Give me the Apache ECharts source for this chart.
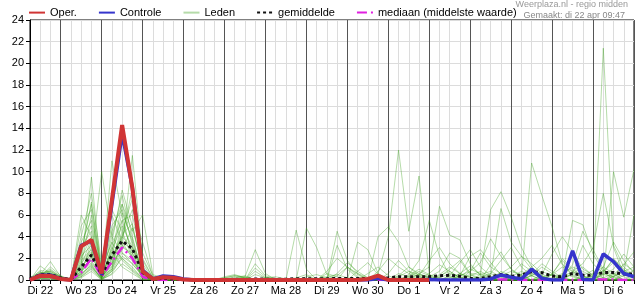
<!DOCTYPE html>
<html><head><meta charset="utf-8">
<script src="https://cdn.jsdelivr.net/npm/echarts@6/dist/echarts.min.js"></script>
<style>html,body{margin:0;padding:0;background:#fff}#c{width:635px;height:300px}</style>
</head><body><div id="c"></div>
<script>
// Day names (tick labels at noon of each day); series are 6-hourly from Di 22 06:00
const days = ['Di 22','Wo 23','Do 24','Vr 25','Za 26','Zo 27','Ma 28','Di 29','Wo 30','Do 1','Vr 2','Za 3','Zo 4','Ma 5','Di 6','Wo 7'];
const firstHour = 6;
const stepHours = 6;
const stepCount = 60;

const oper = [0,0.4,0.37,0.1,0,3.1,3.7,0.6,7.4,14.3,8.5,0.8,0.1,0.25,0.2,0.05,0,0,0,0,0,0,0,0,0,0,0,0,0,0,0,0,0,0.1,0.4,0,0,0,0,0];
const controle = [0,0.45,0.45,0.1,0,3.2,3.6,0.5,7,13.5,8.5,0.9,0.1,0.37,0.3,0.1,0,0,0,0,0,0,0,0,0,0,0,0,0,0,0,0,0,0,0.15,0,0,0,0,0.05,0,0,0,0,0,0.1,0.46,0.25,0.1,1.0,0.15,0,0,2.7,0.05,0,2.4,1.7,0.6,0.3];
const gemiddelde = [0.1,0.5,0.5,0.2,0.05,1.2,2.3,0.5,2.3,3.6,2.9,0.7,0.1,0.15,0.1,0.05,0.02,0.02,0.03,0.05,0.06,0.05,0.1,0.08,0.06,0.08,0.12,0.12,0.12,0.12,0.14,0.14,0.14,0.14,0.16,0.2,0.3,0.3,0.3,0.3,0.4,0.43,0.35,0.15,0.15,0.3,0.5,0.35,0.45,0.77,0.68,0.37,0.3,0.6,0.45,0.45,0.68,0.7,0.55,0.55];
const mediaan = [0,0.3,0.3,0.1,0,0.7,2.0,0.3,1.7,3.0,2.0,0.3,0,0,0,0,0,0,0,0,0,0,0,0,0,0,0,0,0,0,0,0,0,0,0,0,0,0,0,0,0,0,0,0,0,0.05,0.05,0.05,0,0,0,0,0,0,0,0.05,0.05,0.05,0,0];

const leden = [
 [0,0.3,0.5,0.1,0,1.5,9.5,0.3,2,4,3,0.5,0,0,0,0, 0,0,0,0.2,0.4,0.3,0,0,0,0,0,0,0.1,0.3,0.5,0.2,0,0,0.6,4, 12,4.5,9.6,0.5,0.2,0,0.3,1,0.6,0.2,0,0.5,1.5,0.8,0.3,0,0,0.6,1.2,0.4,0,0.3,1.5,0.8],
 [0,1.3,0.6,0.2,0,2.5,7,1,3.5,8.3,5,1,0.1,0,0,0, 0,0,0,0,0.1,0.3,2.8,0.6,0,0,0.2,0.5,0,0,0.4,1.2,0.3,0,0,0, 0,0.5,1.8,5.5,2.2,0.4,0,0.8,2.5,1.2,0.6,0,0.2,10.8,7.8,4.9,1.5,0.4,0,0,0.6,2,1,0.3],
 [0.1,0.5,1.7,0.3,0,0.8,3,0.2,11,6,2,0.3,0,0,0.2,0, 0,0,0,0.3,0.5,0.2,0,0,0,0,4.6,1,0,0,0,0,0,0,0,0, 0.2,0,0.6,1.2,6.8,4.15,3.7,1.5,0.4,0,0,0.3,0.8,0.4,0,0.5,2,1,0.4,0,1.2,0.6,0,0.5],
 [0,0.2,0.3,0,0,3.5,5.5,0.5,1.5,3,11.5,2,0.2,0,0,0, 0,0,0,0,0,0,1.5,0.4,0.1,0,0,4.8,3,0.5,0,0,0,0,0,0, 0,0,0,0.3,0.8,2.5,2,0.6,0.5,6.5,8.15,5.8,3,1.2,0.4,0,0.3,0.8,0.4,0,0.2,0.6,0.3,0],
 [0,0.6,0.4,0.1,0.2,1,2,10,4,2.5,1.5,0.4,0,0.3,0.1,0, 0,0,0,0,0.2,0.4,0,0,0,0,0,0,0,0,4.5,1.8,0.6,0,0,0, 0.3,0.8,0.5,0.2,0,0.4,1.6,2.8,1.2,0.4,6.6,3.5,2.2,1.5,0.6,0,0.4,5.5,5.1,2.4,0.8,0,0,0],
 [0,0.4,0.8,0.2,0,0.5,1.5,0.1,2.5,7,4.5,6,0.5,0.2,0,0, 0,0,0,0,0,0,1.1,0.3,0,0,0,0,0,0,3.2,1,0.2,0,0,0, 0,0,0,0,0.4,0.8,0.2,0,0,0.6,1.8,3,1.2,0.4,0,0.5,1.2,0.8,1.5,3,8,3.2,1.2,0.4],
 [0.2,0.8,0.3,0,0,5,6.5,0.4,1,5.5,2.5,0.2,0,0,0,0, 0,0,0,0,0,0,0.8,0.2,0,0,0,0,0,0,0,0,3.5,2.8,0.6,0, 0,0.4,1,0.5,0,0.2,0.6,0.3,0,1.4,2.6,1,0.2,0,0,0.6,1.8,0.8,0,0.3,21.4,3,0.5,0.2],
 [0,0.1,0.2,0,0,0.3,1,0,0.8,2,1.2,0.1,0,0,0,0, 0,0,0,0,0,0,0,0,0,0,0,0,0,0,0,0,0,0,4,4.9, 3.5,1.2,0.4,0,0,0.3,0,0,0.5,0.8,0.3,0,0,0.4,1.2,0.6,0,0,0.4,0.9,0.2,10,5.8,10.2],
 [0,0.3,1.2,0.4,0,2,4,0.6,5,6.5,3.5,0.8,0,0,0.3,0.1, 0,0,0,0,0,0,0,0,0,0,0,0,0,0.8,2,1.2,0.5,0,0,0, 0,0,0.4,1.8,3,1.5,0.6,0,0,0,0.8,0.4,0,0,0.5,2.4,4,2.6,1,0.5,0.2,0,0.6,6],
 [0,0.2,0.1,0,0,1.2,2.5,0.2,1.8,4.5,7.5,1.5,0.1,0,0,0, 0,0,0,0,0,0,0,0,0,0,0,0,0,0,0,1.2,0.6,0.2,0,0, 0,0.3,0.8,0.4,0,0,0.4,2.2,2.8,1.6,0.5,0,0,0.8,0.4,0,0,0.6,3.2,1.5,0.6,0.3,0.8,0.4],
 [0,0.5,0.5,0.1,0,0.6,3.5,0.3,3,2,1,0.2,0,0,0,0, 0,0,0,0.1,0.3,0.2,0,0,0,0,0,0,0,0,0,0,0,0,0,0, 0,0,0,0,0,0,0,0.4,0.8,0.3,0,0,0.5,1.2,2,3.2,1.4,0.5,0,0,0.8,1.6,0.6,0.2],
 [0.1,0.7,0.6,0.3,0.1,4,8,1.5,6,3.5,2,0.4,0,0.1,0,0, 0,0,0,0,0,0,0,0,0,0,0,0,0,0,0,0,0,0,0.8,2, 1.2,0.6,0.3,0,0.3,1,1.8,0.5,0,0,0.4,0.8,0.5,0,0,0,0.3,1.4,4.5,2.8,1,0.2,0,0],
 [0,0.2,0.4,0.1,0,0.4,1.2,0.1,0.5,1.5,0.8,0,0,0,0,0, 0,0,0,0,0,0,0,0,0,0,0,0,0,0,0,0,0,0,0,0, 0,0,0,0,0,0,0,0,0,0,0,0,0.3,0.6,0.2,0,0,0,0,0,0,0.3,0.8,1.2],
 [0,0.9,0.7,0.2,0,2.8,5,0.2,2,4,6.5,3.5,0.3,0,0,0, 0,0,0,0,0,0,0,0,0,0,0,0,0,0,0,0,0,0,0,0, 0.4,1.2,0.6,0.2,0,0,0.4,0.8,1.6,3.8,2.2,1,0.4,0,0,0.2,0.6,0.3,0,0,0.5,1,2.4,1.2],
 [0,0.3,0.2,0,0,0.2,0.8,0,1.2,3,2.5,0.6,0,0,0,0, 0,0,0,0,0,0,0,0,0,0,0,0,0,0,0,0,0,0,0,0, 0,0,0,0,0,0,0,0,0,0,0,0,0,0,0,0,0,0,0,0.2,0.5,0.3,0,0],
 [0,0.4,0.9,0.3,0,1.8,2.8,0.4,4,7.8,4,0.5,0,0.4,0.2,0, 0,0,0,0,0,0,0,0,0,0,0,0,0,0,0,0,0,0,0,0, 0,0,0,0.6,1.4,0.8,0.2,0,0,0,0,0,0,0,0.3,0.5,0.2,0,0,0,0,0,0,0],
 [0,0.6,0.3,0.1,0,3,4.5,0.1,0.8,2.5,1.8,0.3,0,0,0,0, 0,0,0,0,0,0,0,0,0,0,0,0,0,0,0.6,1.6,0.8,0.2,0,0, 0,0,0,0,0.2,0.6,0.3,0,0,0,0,0,0,0.4,0.8,0.4,0,0,0,0.6,1.2,3.5,1.8,0.6],
 [0,0.2,0.5,0.2,0,0.7,2.2,0.5,2.8,5,3,1,0.2,0,0,0, 0,0,0,0,0,0,0,0,0,0,0,0,0,0,0,0,0,0,0,0, 0,0,0,0,0,0,0.6,1.3,0.5,0,0,0,0,0,0,0,0,0,0.2,0.4,0.8,1.9,0.9,0.3],
 [0,0.3,0.4,0,0,1.4,6,0.8,3.5,1.8,0.9,0.1,0,0,0,0, 0,0,0,0,0,0,0,0,0,0,0,0,0,0,0,0,0,0,0,0.6, 1.8,0.8,0.3,0,0,0,0,0,0,0,0,0,0,0,0,0,0,0,0,0,0,0,0,0],
 [0,0.5,0.6,0.2,0,0.9,1.8,0.2,1.5,3.8,8.5,2.5,0.4,0,0,0, 0,0,0,0,0,0,0,0,0,0,0,0,0,0,0,0,0,0,0,0, 0,0,0,0,0,0,0,0,0,0.3,0.6,1.2,2.2,1,0.3,0,0,0,0,0,0,0.5,1.4,2.6],
 [0,0.1,0.3,0.1,0,2.2,3.2,0.3,6.5,4.5,2,0.2,0,0,0,0, 0,0,0,0.2,0.4,0.2,0,0,0,0,0,0,0,0,0,0,0,0,0,0, 0,0.2,0.5,0.3,0,0,0,0,0,0,0,0,0,0,0,0,0.5,1.2,0.8,0.3,0,0,0,0],
 [0,0.4,0.2,0,0,0.5,1.4,0,0.6,2.2,1.5,0.3,0,0,0,0, 0,0,0,0,0,0,0,0,0,0,0,0,0,0.6,0.3,0,0,0,0,0, 0,0,0,0,0,0,0,0,0.3,0.6,0.2,0,0,0,0,0,0,0,0,0,0,0,0,0],
 [0,0.6,0.8,0.3,0,1.6,2.6,0.7,2.2,6.2,3.8,0.6,0,0.2,0,0, 0,0,0,0,0,0,0,0.2,0.3,0.1,0,0,0,0,0,0,0,0,0,0, 0.6,0.3,0,0,0,0,0,0,0,0,0,0,0,0,0,0,0,0,0,0.4,0.9,0.5,0,0],
 [0,0.2,0.1,0,0,0.3,1.1,0.2,1,2.8,4.8,1.2,0.1,0,0,0, 0,0,0,0,0,0,0,0,0,0,0,0,0,0,0,0,0,0,0,0, 0,0,0,0,0,0,0,0,0,0,0,0,0,0,0,0,0,0,0,0,0,0,0.4,0.9],
 [0.1,0.3,0.5,0.1,0,6,4,0.3,1.3,3.2,2.2,0.4,0,0,0,0, 0,0,0,0,0,0,0,0,0,0,0,0.3,0.5,0.2,0,0,0,0,0,0, 0,0,0,0,0.5,1.2,0.6,0.2,0,0,0,0,0,0,0,0,0,0,0,0,0,0,0,0],
 [0,0.4,0.3,0.1,0,1.1,2.4,0.1,3.2,5.5,6,1.8,0.2,0,0.3,0, 0,0,0,0,0,0,0,0,0,0,0,0,0,0,0,0,0,0.6,1.2,0.4, 0,0,0,0,0,0,0,0,0,0,0,0,0,0.5,1.5,0.8,0.2,0,0,0,0,0,0,0],
 [0,0.2,0.6,0.2,0,0.8,1.6,0.4,2.6,1.2,0.6,0,0,0,0,0, 0,0,0,0,0,0,0,0,0,0,0,0,0,0,0,0,0,0,0,0, 0,0,0,0,0,0,0,0,0,0,0,0,0,0,0,0,0,0,0,0,0,0,0,0],
 [0,0.7,0.4,0.1,0,2.4,7.2,0.6,4.5,7,3.2,0.7,0,0,0,0, 0,0,0,0,0,0,0.5,0.2,0,0,0,0,0,0,0,0,0,0,0,0, 0,0,0,0,0,0,0.2,0.5,0.2,0,0,0,0,0,0,0,0,0,0,0,0,0,0,0],
 [0,0.3,0.2,0,0,0.6,1.3,0.1,0.9,3.5,2.8,0.9,0.1,0,0,0, 0,0,0,0,0,0,0,0,0,0,0,0,0,0,0,0,0,0,0,0, 0,0,0,0,0,0,0,0,0,0,0,0,0,0,0,0,0,0,0,0,0,0,0,0],
 [0,0.5,1,0.3,0,1.3,3.8,0.2,1.6,4.2,5.2,0.8,0,0.1,0,0, 0,0,0,0,0,0,0,0,0,0,0,0,0,0,0,0,0.8,1.6,0.5,0, 0,0,0,0,0,0,0,0,0,0,0,0,0,0,0,0,0.2,0.6,0.3,0,0,0,0,0]
];

const FONT = '"Liberation Sans", Arial, sans-serif';
const categories = [];
for (let i = 0; i < stepCount; i++) {
  const t = firstHour + stepHours * i;
  categories.push(days[Math.floor(t / 24)] + ' ' + String(t % 24).padStart(2, '0') + ':00');
}
const hourOf = i => (firstHour + stepHours * i) % 24;

const series = [];
leden.forEach(m => series.push({
  name: 'Leden', type: 'line', data: m, symbol: 'none', silent: true, z: 2,
  itemStyle: {color: 'rgba(60,160,30,0.38)'},
  lineStyle: {color: 'rgba(60,160,30,0.38)', width: 1}
}));
series.push({name: 'mediaan (middelste waarde)', type: 'line', data: mediaan, symbol: 'none', z: 3,
  itemStyle: {color: '#e020e0'}, lineStyle: {color: '#e020e0', width: 2.5, type: [10, 4, 2, 4]}});
series.push({name: 'gemiddelde', type: 'line', data: gemiddelde, symbol: 'none', z: 4,
  itemStyle: {color: '#111'}, lineStyle: {color: '#111', width: 3, type: [3, 3]}});
series.push({name: 'Controle', type: 'line', data: controle, symbol: 'none', z: 5,
  itemStyle: {color: '#3535cc'}, lineStyle: {color: '#3535cc', width: 3.5}});
series.push({name: 'Oper.', type: 'line', data: oper, symbol: 'none', z: 6,
  itemStyle: {color: '#d03535'}, lineStyle: {color: '#d03535', width: 4}});

const chart = echarts.init(document.getElementById('c'), null, {renderer: 'canvas'});
chart.setOption({
  animation: false,
  textStyle: {fontFamily: FONT},
  grid: {left: 30, right: 1, top: 20, bottom: 20, show: true, borderColor: '#000', borderWidth: 1},
  legend: {
    data: ['Oper.', 'Controle', 'Leden', 'gemiddelde', 'mediaan (middelste waarde)'],
    left: 28, top: 7, padding: 0, itemWidth: 16, itemHeight: 14, itemGap: 21,
    itemStyle: {opacity: 0},
    textStyle: {fontSize: 11, color: '#000', fontFamily: FONT}
  },
  graphic: [
    {type: 'text', x: 628, y: 0, style: {text: 'Weerplaza.nl - regio midden', align: 'right', verticalAlign: 'top', fill: '#999', font: '9px ' + FONT}},
    {type: 'text', x: 625, y: 11, style: {text: 'Gemaakt: di 22 apr 09:47', align: 'right', verticalAlign: 'top', fill: '#888', font: '9px ' + FONT}}
  ],
  xAxis: [
    {type: 'category', data: categories, boundaryGap: false,
     axisLine: {lineStyle: {color: '#000'}},
     axisTick: {show: true, interval: 0, length: 4, lineStyle: {color: '#000'}},
     axisLabel: {interval: (i) => hourOf(i) === 12, formatter: v => v.slice(0, v.lastIndexOf(' ')),
                 fontSize: 11, color: '#000', margin: 5, fontFamily: FONT},
     splitLine: {show: true, interval: 0, lineStyle: {color: '#dcdcdc', width: 1}}},
    {type: 'category', data: categories, boundaryGap: false, position: 'bottom',
     axisLine: {show: false}, axisTick: {show: false}, axisLabel: {show: false},
     splitLine: {show: true, interval: (i) => hourOf(i) === 0, lineStyle: {color: '#555', width: 1}}}
  ],
  yAxis: {type: 'value', min: 0, max: 24, interval: 2,
    axisLine: {show: true, lineStyle: {color: '#000'}},
    axisTick: {show: true, length: 4, lineStyle: {color: '#000'}},
    axisLabel: {fontSize: 11, color: '#000', margin: 6, fontFamily: FONT},
    splitLine: {show: true, lineStyle: {color: '#dcdcdc', width: 1}}},
  series: series
});
</script></body></html>
